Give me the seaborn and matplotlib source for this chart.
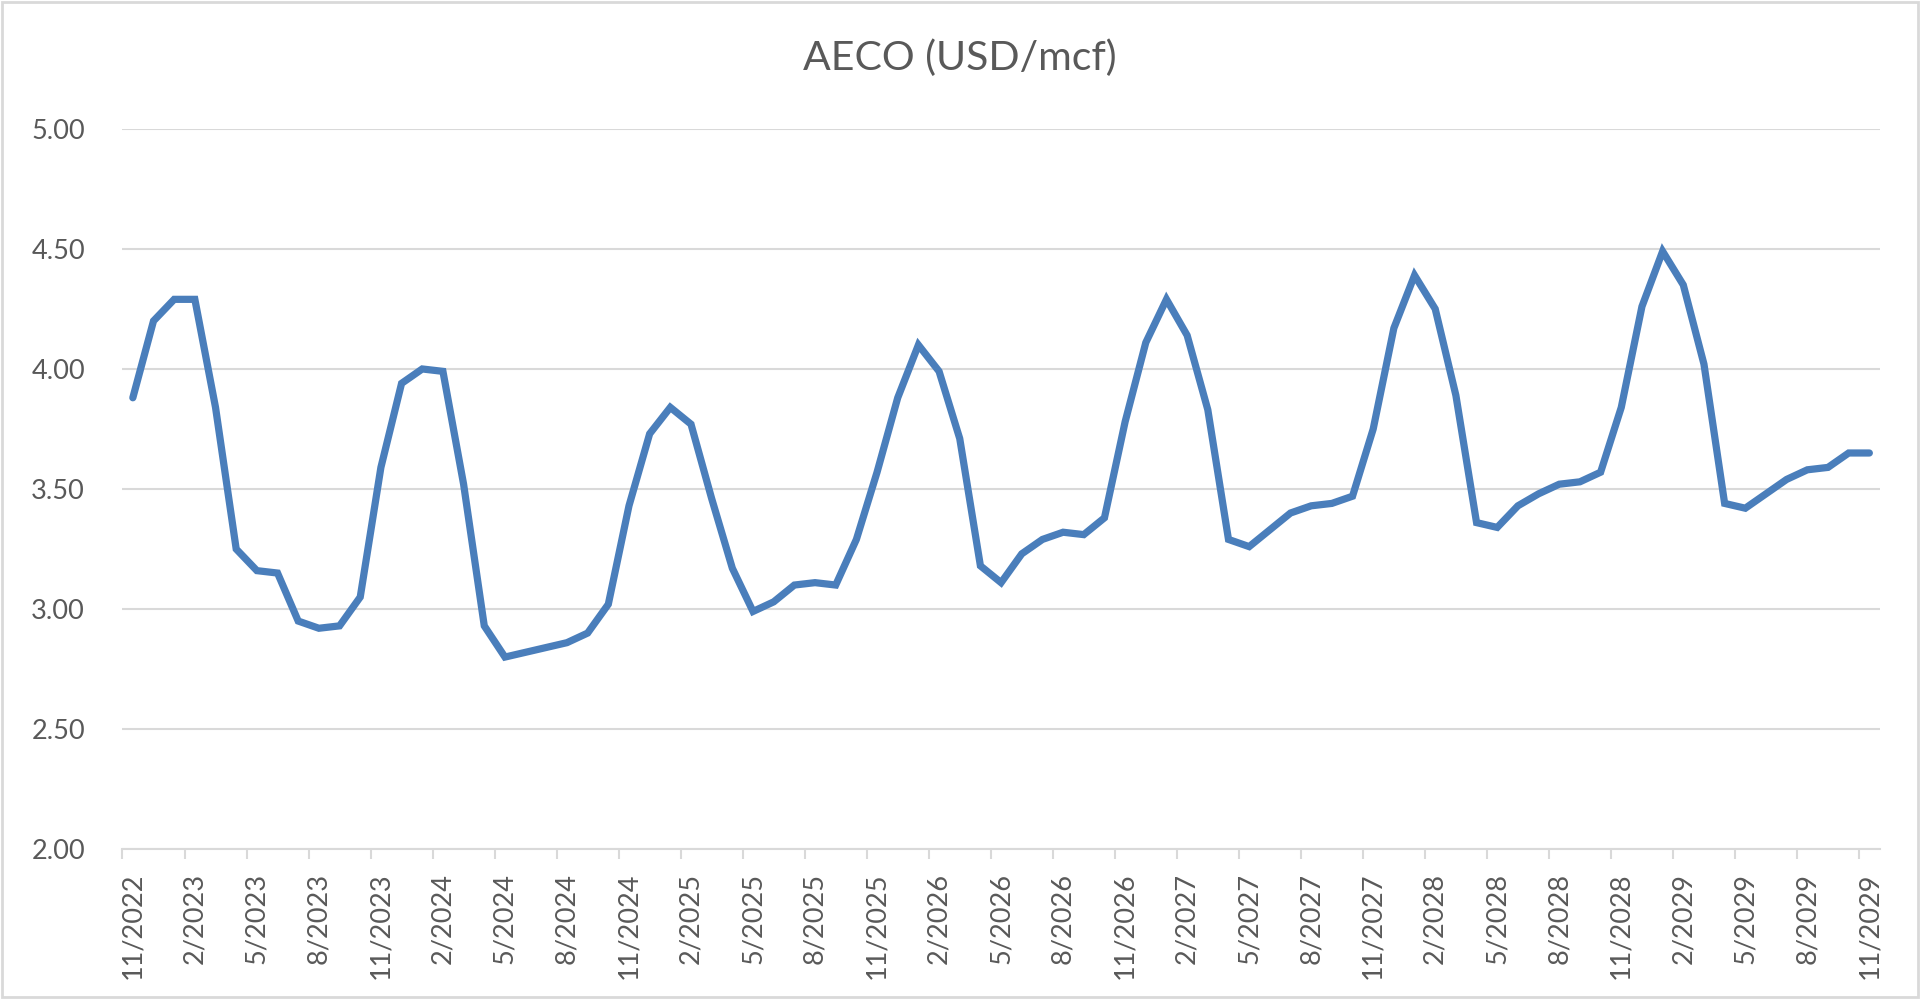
import pandas as pd
import numpy as np
import seaborn as sns
import matplotlib.pyplot as plt
from matplotlib.patches import Rectangle

# monthly AECO strip, 11/2022 .. 11/2029
start_month = "2022-11"
n_months = 85
aeco = [3.88, 4.20, 4.29, 4.29, 3.84, 3.25, 3.16, 3.15, 2.95, 2.92,
        2.93, 3.05, 3.59, 3.94, 4.00, 3.99, 3.52, 2.93, 2.80, 2.82,
        2.84, 2.86, 2.90, 3.02, 3.43, 3.73, 3.84, 3.77, 3.46, 3.17,
        2.99, 3.03, 3.10, 3.11, 3.10, 3.29, 3.57, 3.88, 4.10, 3.99,
        3.71, 3.18, 3.11, 3.23, 3.29, 3.32, 3.31, 3.38, 3.78, 4.11,
        4.29, 4.14, 3.83, 3.29, 3.26, 3.33, 3.40, 3.43, 3.44, 3.47,
        3.75, 4.17, 4.39, 4.25, 3.89, 3.36, 3.34, 3.43, 3.48, 3.52,
        3.53, 3.57, 3.84, 4.26, 4.49, 4.35, 4.02, 3.44, 3.42, 3.48,
        3.54, 3.58, 3.59, 3.65, 3.65]

months = pd.period_range(start_month, periods=n_months, freq="M")
labels = [f"{p.month}/{p.year}" for p in months]
df = pd.DataFrame({"idx": np.arange(n_months), "price": aeco, "label": labels})

sns.set_theme(style="white")
plt.rcParams['font.family'] = ['Lato', 'DejaVu Sans']

grey_text = "#595959"
grid_col = "#d9d9d9"

fig = plt.figure(figsize=(19.2, 9.99), dpi=100)
ax = fig.add_axes([0.0638, 0.150, 0.9152, 0.721])

sns.lineplot(data=df, x="idx", y="price", ax=ax, color="#4a7ebb",
             linewidth=5.2, solid_joinstyle="miter")

ax.set_ylim(2.0, 5.0)
ax.set_yticks(np.arange(2.0, 5.01, 0.5))
ax.set_yticklabels([f"{v:.2f}" for v in np.arange(2.0, 5.01, 0.5)])
ax.set_xlim(-0.5, n_months - 0.5)

# labels on every third month, tick marks on category boundaries
ax.set_xticks(df["idx"][::3])
ax.set_xticklabels(df["label"][::3], rotation=90, va="top", ha="center")
ax.set_xticks(np.arange(-0.5, n_months, 3), minor=True)
ax.tick_params(axis="x", which="major", length=0, pad=17,
               labelsize=19.5, labelcolor=grey_text)
ax.tick_params(axis="x", which="minor", length=7, width=1.5,
               color=grid_col, bottom=True)
ax.tick_params(axis="y", length=0, pad=27, labelsize=19.5,
               labelcolor=grey_text)

ax.grid(axis="y", color=grid_col, linewidth=1.5)
ax.grid(axis="x", visible=False)
for side in ["top", "right", "left"]:
    ax.spines[side].set_visible(False)
ax.spines["bottom"].set_color(grid_col)
ax.spines["bottom"].set_linewidth(1.5)
ax.set_xlabel("")
ax.set_ylabel("")

fig.text(0.5, 0.942, "AECO (USD/mcf)", ha="center", va="center",
         fontsize=29.5, color=grey_text)

fig.patches.append(Rectangle((0.001, 0.002), 0.998, 0.996,
                             transform=fig.transFigure, fill=False,
                             edgecolor=grid_col, linewidth=2))

fig.savefig("out.png", dpi=100)
